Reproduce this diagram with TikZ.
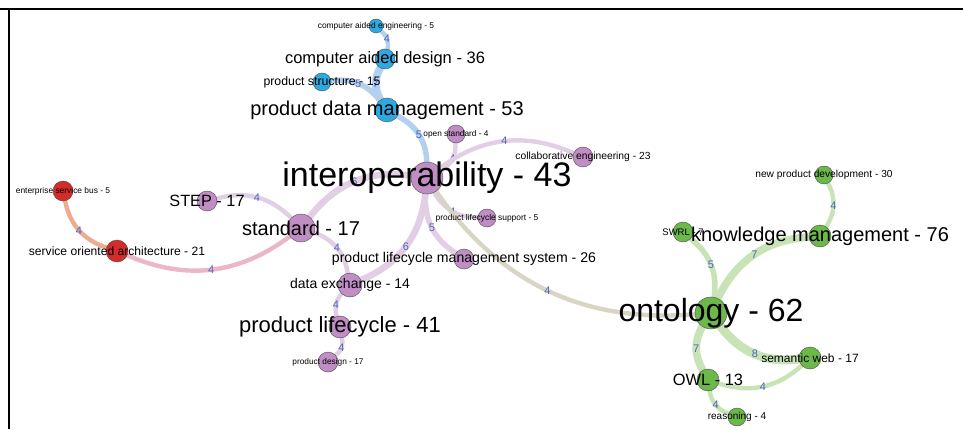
\documentclass[tikz,border=0pt]{standalone}
\usepackage{fontspec}
\setmainfont{Liberation Sans}
\usetikzlibrary{backgrounds}
\definecolor{cblue}{HTML}{2CA9E1}
\definecolor{cpurple}{HTML}{C08DC4}
\definecolor{cred}{HTML}{D52B2B}
\definecolor{cgreen}{HTML}{6CB84B}
\definecolor{eblue}{HTML}{B3D0EE}
\definecolor{epurple}{HTML}{E2CFE6}
\definecolor{ered}{HTML}{EDAC90}
\definecolor{epink}{HTML}{EBB6C8}
\definecolor{eolive}{HTML}{D8D5C2}
\definecolor{egreen}{HTML}{C8E3B6}
\definecolor{wblue}{HTML}{4F63C2}
\begin{document}
\begin{tikzpicture}[x=1pt,y=1pt,
    term/.style={circle,draw=black!70,line width=0.4pt,inner sep=0pt,minimum size=#1},
    link/.style={line width=#1,line cap=round},
    weight/.style={text=wblue,font=\fontsize{11}{11}\selectfont,inner sep=0pt}]
    \useasboundingbox (0,0) rectangle (963,429);
    \draw[line width=2.5pt] (0,420) -- (963,420);
    \draw[line width=2.5pt] (9,0) -- (9,421.25);
    \foreach \n/\x/\y/\r/\c in {cae/376/403/7/cblue, cad/385/370/10/cblue,
      pstruct/322/347/9/cblue, pdm/387/319/12/cblue, ostd/456/295/9/cpurple,
      interop/427/251/16/cpurple, collab/583/272/10/cpurple, pls/487/211/9/cpurple,
      plms/464/170/10/cpurple, STEP/207/228/10/cpurple, std/301/201/14/cpurple,
      soa/117/178/11/cred, esb/63/238/10/cred, dex/350/144/12/cpurple,
      plc/340/102/11/cpurple, pdes/328/67/10/cpurple, npd/824/254/9/cgreen,
      km/820/193/11/cgreen, swrl/683/197/10/cgreen, onto/711/116/16/cgreen,
      sweb/810/71/11/cgreen, owl/708/49/11/cgreen, reason/737/12/9/cgreen}
    {
      \node[term=\r*2pt, fill=\c] (\n) at (\x,\y) {};
    }
    \begin{scope}[on background layer]
      \foreach \a/\b/\w/\c/\ang in {cae/cad/4/eblue/30, cad/pdm/7/eblue/-30,
        pstruct/pdm/5/eblue/30, pdm/interop/5/eblue/30, ostd/interop/4/epurple/30,
        collab/interop/4/epurple/-30, pls/interop/4/epurple/30,
        plms/interop/5/epurple/30, interop/dex/6/epurple/30, std/interop/6/epurple/30,
        STEP/std/4/epurple/30, std/dex/4/epurple/30, dex/plc/4/epurple/-30,
        plc/pdes/4/epurple/30, std/soa/4/epink/30, soa/esb/4/ered/30,
        interop/onto/4/eolive/-30, npd/km/4/egreen/30, km/onto/7/egreen/-30,
        swrl/onto/5/egreen/30, onto/owl/7/egreen/-30, onto/sweb/8/egreen/-30,
        owl/sweb/4/egreen/-30, owl/reason/4/egreen/-30}
      {
        \draw[link=\w*1.1pt, draw=\c] (\a) to[bend left=\ang] node[weight] {\w} (\b);
      }
    \end{scope}
    \foreach \n/\s/\t in {cae/8.4/computer aided engineering - 5,
      cad/16.5/computer aided design - 36, pstruct/12.3/product structure - 15,
      pdm/20/product data management - 53, ostd/8.3/open standard - 4,
      interop/34/interoperability - 43, collab/10.3/collaborative engineering - 23,
      pls/8.4/product lifecycle support - 5,
      plms/14.1/product lifecycle management system - 26, STEP/16.3/STEP - 17,
      std/20/standard - 17, soa/12.1/service oriented architecture - 21,
      esb/8.4/enterprise service bus - 5, dex/14/data exchange - 14,
      plc/22/product lifecycle - 41, pdes/8.3/product design - 17,
      npd/10.2/new product development - 30, swrl/9.5/SWRL - 7,
      km/20/knowledge management - 76, onto/32/ontology - 62,
      sweb/12/semantic web - 17, owl/16.4/OWL - 13, reason/10/reasoning - 4}
    {
      \node[font=\fontsize{\s}{\s}\selectfont, inner sep=0pt] (\n-text) at (\n) {\t};
    }
\end{tikzpicture}
\end{document}
